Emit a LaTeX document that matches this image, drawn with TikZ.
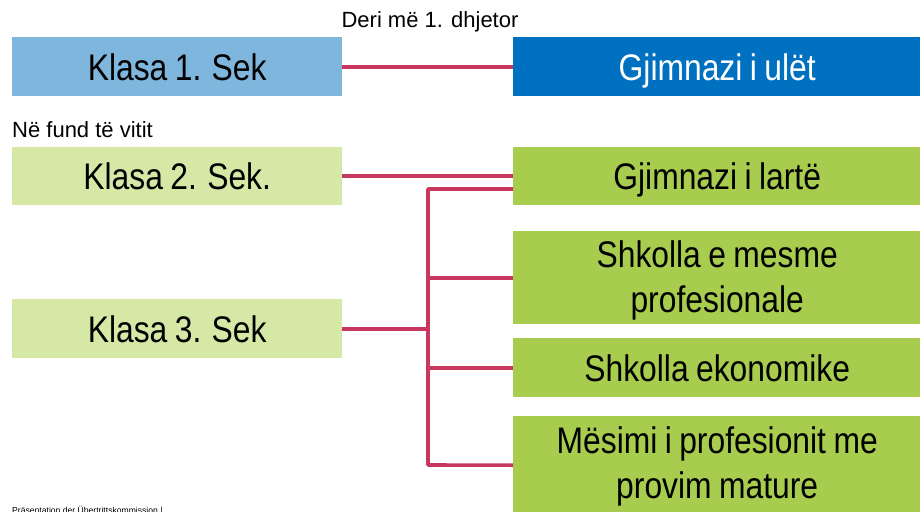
\documentclass[tikz,border=0pt]{standalone}
\usepackage{fontspec}
\setmainfont{Liberation Sans}
\newfontfamily\condfont[FakeStretch=0.86,WordSpace=0.84]{Liberation Sans}
\definecolor{lblue}{RGB}{127,182,221}
\definecolor{dblue}{RGB}{0,112,192}
\definecolor{lgreen}{RGB}{214,232,166}
\definecolor{dgreen}{RGB}{168,204,78}
\definecolor{crim}{RGB}{200,56,94}
\begin{document}
\begin{tikzpicture}[x=1pt,y=-1pt,
  box/.style={rectangle, inner sep=0pt, anchor=north west, align=center, text=black,
    font=\condfont\fontsize{37}{45}\selectfont},
  leftbox/.style={box, minimum width=330pt},
  rightbox/.style={box, minimum width=408pt},
  oneline/.style={text height=27pt, text depth=0pt},
  twoline/.style={inner sep=0pt, align=center, text=black, font=\condfont\fontsize{37}{45}\selectfont},
  conn/.style={draw=crim, line width=3.6pt, line join=round},
  small/.style={inner sep=0pt, anchor=base west, font=\fontsize{22}{26}\selectfont}
]
\useasboundingbox (0,0) rectangle (920,511);
\clip (0,0) rectangle (920,511);

\node[small, anchor=base] (deri) at (430,28) {Deri më 1. dhjetor};
\node[small] (fund) at (12,137) {Në fund të vitit};

\node[leftbox, oneline, fill=lblue, minimum height=59pt] (k1) at (12,37) {Klasa 1. Sek};
\node[rightbox, oneline, fill=dblue, text=white, minimum height=59pt] (g1) at (513,37) {Gjimnazi i ulët};

\node[leftbox, oneline, fill=lgreen, minimum height=58pt] (k2) at (12,147) {Klasa 2. Sek.};
\node[rightbox, oneline, fill=dgreen, minimum height=58pt] (g2) at (513,147) {Gjimnazi i lartë};

\node[rightbox, fill=dgreen, minimum height=93pt] (mes) at (513,231) {};
\node[twoline] (mestext) at ([yshift=-3pt]mes.center) {Shkolla e mesme\\profesionale};
\node[leftbox, oneline, fill=lgreen, minimum height=59pt] (k3) at (12,299) {Klasa 3. Sek};
\node[rightbox, oneline, fill=dgreen, minimum height=59pt] (eko) at (513,338) {Shkolla ekonomike};
\node[rightbox, fill=dgreen, minimum height=98pt] (mat) at (513,416) {};
\node[twoline] (mattext) at ([yshift=-1pt]mat.center) {Mësimi i profesionit me\\provim mature};

\node[inner sep=0pt, anchor=base west, font=\fontsize{8.6}{10}\selectfont] (foot) at (12,513) {Präsentation der Übertrittskommission |};

\coordinate (jt) at (428,189);
\coordinate (jb) at (428,465);

\draw[conn] (k1.east) -- (g1.west);
\draw[conn] (k2.east) -- (g2.west);
\draw[conn] (g2.west |- jt) -- (jt) -- (jb) -- (mat.west);
\draw[conn] (k3.east) -- (k3.east -| jt);
\draw[conn] (mes.west -| jt) -- (mes.west);
\draw[conn] (eko.west -| jt) -- (eko.west);
\end{tikzpicture}
\end{document}
